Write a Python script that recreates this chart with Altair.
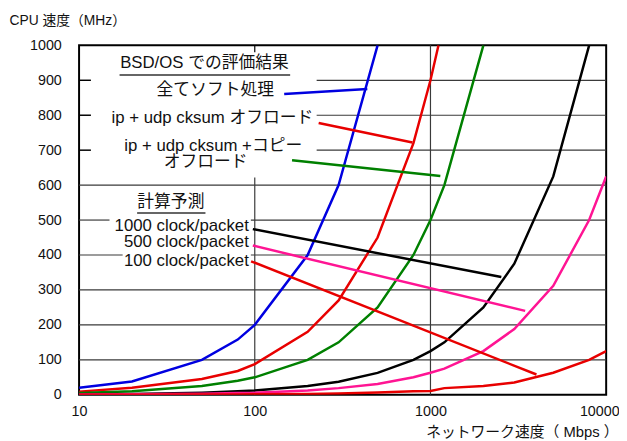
import altair as alt
import pandas as pd

FONT = "Liberation Sans, Arial, Noto Sans CJK JP, sans-serif"

# ---- measured (BSD/OS) series ----
x_soft = [10, 20, 50, 80, 100, 200, 300, 500]
y_soft = [20, 38, 100, 158, 200, 400, 600, 1000]
x_cks = [10, 20, 50, 80, 100, 200, 300, 500, 800, 1000, 1111]
y_cks = [9, 20, 45, 68, 88, 180, 270, 450, 720, 900, 1000]
x_copy = [10, 20, 50, 80, 100, 200, 300, 500, 800, 1000, 1200, 2000]
y_copy = [5, 10, 25, 40, 50, 100, 150, 250, 400, 500, 600, 1000]

# ---- calculated series ----
x_calc = [10, 20, 50, 80, 100, 200, 300, 500, 800, 1000, 1200, 2000, 3000, 5000, 8000, 10000]
y_1000 = [1.2, 2.5, 6, 10, 12.5, 25, 37.5, 62.5, 100, 125, 150, 250, 375, 625, 1000, None]
y_500 = [0.6, 1.2, 3, 5, 6, 12.5, 19, 31, 50, 63, 75, 125, 188, 312, 500, 625]
y_100 = [0.1, 0.25, 0.6, 1, 1.2, 2.5, 3.8, 6.2, 10, 11, 19, 25, 35, 63, 100, 125]

series_names = ["soft", "cks", "copy", "c1000", "c500", "c100"]
series_colors = ["#0000E0", "#E80000", "#008000", "#000000", "#FF1493", "#E80000"]

rows = []
for name, xs_, ys_ in [("soft", x_soft, y_soft), ("cks", x_cks, y_cks), ("copy", x_copy, y_copy),
                       ("c1000", x_calc, y_1000), ("c500", x_calc, y_500), ("c100", x_calc, y_100)]:
    for xv, yv in zip(xs_, ys_):
        if yv is not None:
            rows.append({"x": xv, "y": yv, "series": name})
df = pd.DataFrame(rows)

# ---- leader lines (label -> curve) ----
lead_series = ["soft", "cks", "copy", "c1000", "c500", "c100"]
lead_x1 = [147, 231, 163, 97.5, 97.5, 95.3]
lead_y1 = [861, 778, 671, 474, 427, 382]
lead_x2 = [437, 790, 1138, 2530, 3460, 4010]
lead_y2 = [875, 722, 626, 337, 240, 58]
lead = pd.DataFrame({"series": lead_series, "x": lead_x1, "y": lead_y1, "x2": lead_x2, "y2": lead_y2})

# ---- gridlines ----
gh_y = [100, 200, 300, 400, 400, 500, 500, 600, 700, 800, 900]
gh_x1 = [10, 10, 10, 10, 95, 10, 95, 10, 225, 225, 225]
gh_x2 = [10000, 10000, 10000, 17.7, 10000, 14.9, 10000, 10000, 10000, 10000, 10000]
gv_x = [100, 1000]
gv_y1 = [0, 0]
gv_y2 = [622, 1000]

# ---- annotation texts ----
c_text = ["BSD/OS での評価結果", "全てソフト処理", "ip + udp cksum オフロード",
          "ip + udp cksum +コピー", "オフロード", "計算予測"]
c_x = [51.7, 59.6, 57.4, 58, 52.5, 33.3]
c_y = [949, 872, 793, 713, 665, 551]
r_text = ["1000 clock/packet", "500 clock/packet", "100 clock/packet"]
r_x = [92.5, 92.5, 92.5]
r_y = [483, 437, 384]
ul_y = [915, 520]
ul_x1 = [17.0, 21.4]
ul_x2 = [159, 52.4]

x_ticks = [10, 100, 1000, 10000]
y_ticks = list(range(0, 1001, 100))

xs = alt.Scale(type="log", domain=[10, 10000], nice=False)
ys = alt.Scale(domain=[0, 1000], nice=False)
cs = alt.Scale(domain=series_names, range=series_colors)

x_axis = alt.Axis(
    values=x_ticks, format="d", grid=False, ticks=False, domain=False, labelFlush=False,
    labelPadding=10, labelFontSize=14.5, labelFont=FONT, labelColor="#111",
    labelOffset={"condition": {"test": "datum.value == 10000", "value": -7}, "value": 0},
    title="ネットワーク速度（ Mbps ）", titleFont=FONT, titleFontSize=15,
    titleFontWeight="normal", titleColor="#111", titleAlign="right",
    titleBaseline="middle", titleX=546, titleY=37)
y_axis = alt.Axis(
    values=y_ticks, format="d", grid=False, ticks=False, domain=False, labelFlush=False,
    labelPadding=18, labelFontSize=14.5, labelFont=FONT, labelColor="#111",
    title="CPU 速度（MHz）", titleFont=FONT, titleFontSize=14,
    titleFontWeight="normal", titleColor="#111", titleAngle=0, titleAlign="left",
    titleBaseline="middle", titleX=-71, titleY=-25)


def X(field):
    return alt.X(field, type="quantitative", scale=xs, axis=x_axis)


def Y(field):
    return alt.Y(field, type="quantitative", scale=ys, axis=y_axis)


grid_h = alt.Chart(pd.DataFrame({"y": gh_y, "x": gh_x1, "x2": gh_x2})).mark_rule(
    color="#3a3a3a", strokeWidth=1.2).encode(x=X("x"), x2="x2", y=Y("y"))
grid_v = alt.Chart(pd.DataFrame({"x": gv_x, "y": gv_y1, "y2": gv_y2})).mark_rule(
    color="#3a3a3a", strokeWidth=1.2).encode(x=X("x"), y=Y("y"), y2="y2")
left_ticks = alt.Chart(pd.DataFrame({"y": [700, 800, 900]})).mark_rule(
    color="black", strokeWidth=1.5).encode(y=Y("y"), x=alt.value(0), x2=alt.value(12))
top_tick = alt.Chart(pd.DataFrame({"x": [100]})).mark_rule(
    color="black", strokeWidth=1.2).encode(x=X("x"), y=alt.value(0), y2=alt.value(7))

lines = alt.Chart(df).mark_line(strokeWidth=2.5, clip=True).encode(
    x=X("x"), y=Y("y"),
    color=alt.Color("series:N", scale=cs, legend=None),
)

leaders = alt.Chart(lead).mark_rule(strokeWidth=2.5).encode(
    x=X("x"), y=Y("y"), x2="x2", y2="y2",
    color=alt.Color("series:N", scale=cs, legend=None))

ctext = alt.Chart(pd.DataFrame({"t": c_text, "x": c_x, "y": c_y})).mark_text(
    font=FONT, fontSize=17, align="center", baseline="middle", color="#111").encode(
    x=X("x"), y=Y("y"), text="t:N")
rtext = alt.Chart(pd.DataFrame({"t": r_text, "x": r_x, "y": r_y})).mark_text(
    font=FONT, fontSize=17, align="right", baseline="middle", color="#111").encode(
    x=X("x"), y=Y("y"), text="t:N")
underl = alt.Chart(pd.DataFrame({"y": ul_y, "x": ul_x1, "x2": ul_x2})).mark_rule(
    color="#333", strokeWidth=1.5).encode(x=X("x"), x2="x2", y=Y("y"))

chart = alt.layer(grid_h, grid_v, left_ticks, top_tick, lines, leaders, ctext, rtext, underl).properties(
    width=534, height=354,
    padding={"left": 72, "top": 35, "right": 13, "bottom": 44},
    autosize="none",
).configure_view(stroke="black", strokeWidth=2)

chart.save("out.html", embed_options={"renderer": "svg", "actions": False})
